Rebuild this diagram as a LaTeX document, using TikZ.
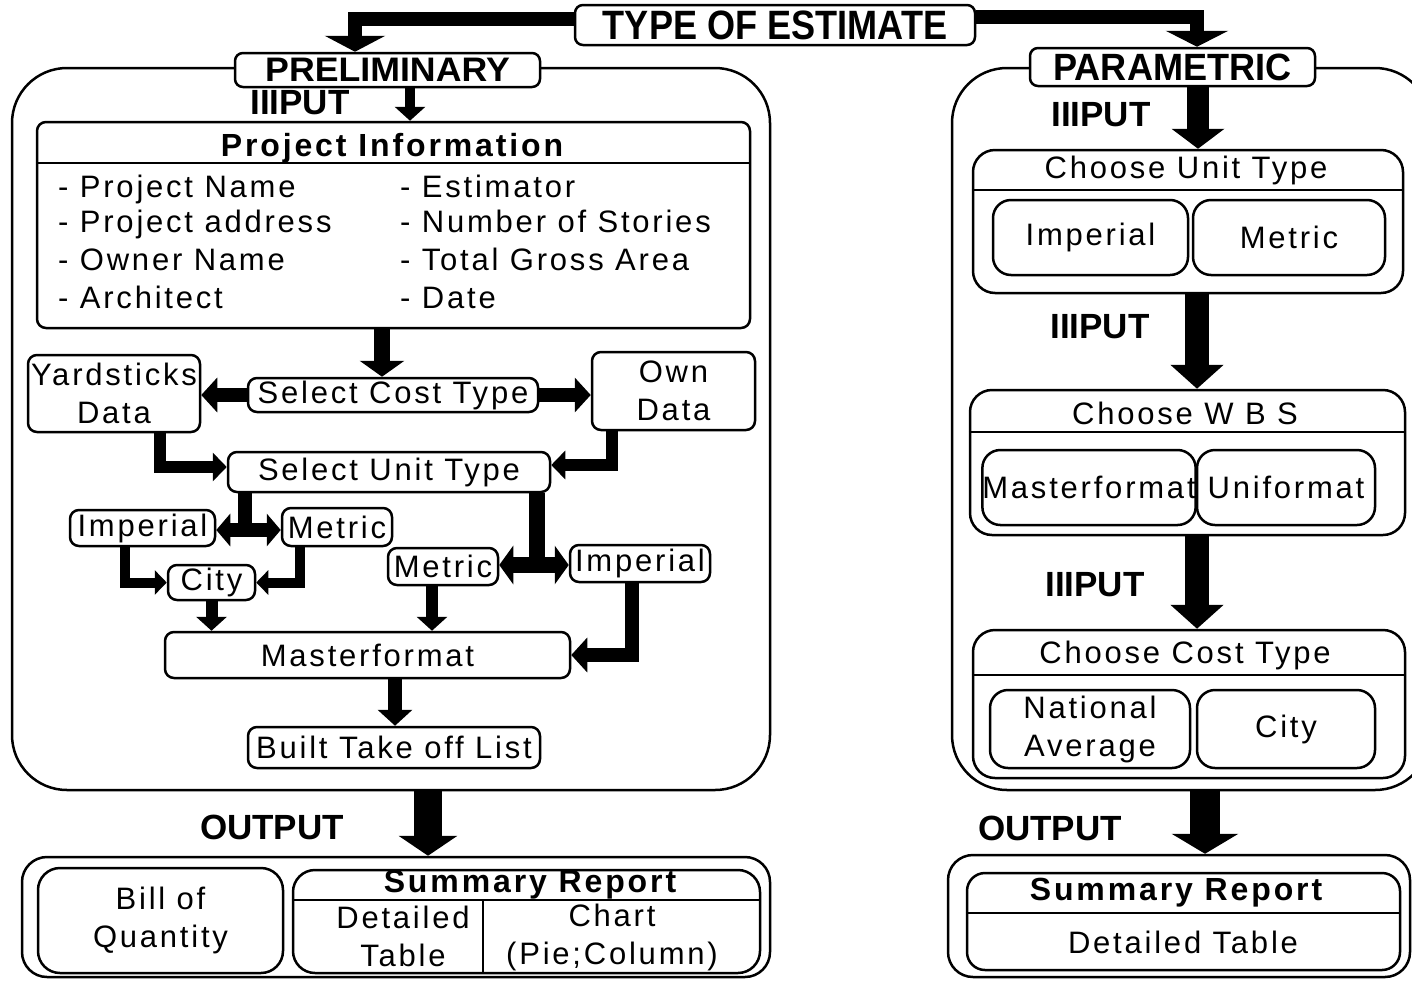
\documentclass[tikz,border=0pt]{standalone}
\usepackage{fontspec}
\usepackage{graphicx}
\setmainfont{Liberation Sans}
\newfontfamily\bodyfont[LetterSpace=9]{Liberation Sans}
\usetikzlibrary{arrows.meta}
\begin{document}
\begin{tikzpicture}[x=1pt,y=-1pt,
  box/.style={draw, line width=2.5pt, rounded corners=9pt, fill=white, inner sep=0pt,
    align=center, font=\bodyfont\fontsize{31}{38}\selectfont},
  panel/.style={draw, line width=2.5pt, rounded corners=55pt, inner sep=0pt},
  lbl/.style={font=\bfseries\fontsize{35}{35}\selectfont, inner sep=0pt},
  txt/.style={font=\bodyfont\fontsize{31}{38}\selectfont, inner sep=0pt, align=center},
  head/.style={font=\bodyfont\bfseries\fontsize{32}{32}\selectfont, inner sep=0pt},
  item/.style={font=\bodyfont\fontsize{31}{36}\selectfont, inner sep=0pt, anchor=base west},
  sep/.style={line width=2.5pt},
  ar/.style n args={3}{line width=#1, -{Triangle[width=#2,length=#3]}},
  dar/.style n args={3}{line width=#1, {Triangle[width=#2,length=#3]}-{Triangle[width=#2,length=#3]}},
]
\useasboundingbox (0,0) rectangle (1412,980);
\clip (0,0) rectangle (1412,980);

% ---------- panels ----------
\node[panel, minimum width=758pt, minimum height=722pt] (lpanel) at (391,429) {};
\node[panel, minimum width=478pt, minimum height=722pt] (rpanel) at (1191,429) {};

% ---------- titles ----------
\node[box, rounded corners=8pt, minimum width=400pt, minimum height=40pt,
      font=\bfseries\fontsize{41}{41}\selectfont] (type) at (775,25) {\scalebox{0.88}[1]{TYPE OF ESTIMATE}};
\node[box, rounded corners=8pt, minimum width=305pt, minimum height=34pt,
      font=\bfseries\fontsize{34}{34}\selectfont] (prelim) at (387.5,70) {\scalebox{1.05}[1]{PRELIMINARY}};
\node[box, rounded corners=8pt, minimum width=285pt, minimum height=38pt,
      font=\bfseries\fontsize{38}{38}\selectfont] (param) at (1172.5,67) {\scalebox{0.95}[1]{PARAMETRIC}};

% ---------- left: preliminary estimate ----------
\node[lbl] (inL) at (300,103) {IIIPUT};

\node[box, minimum width=713pt, minimum height=206pt] (projinfo) at (393.5,225) {};
\draw[sep] (projinfo.west |- 0,163) -- (projinfo.east |- 0,163);
\node[head] (projh) at (392,148) {Project Information};
\node[item] (i1) at (58,197) {- Project Name};
\node[item] (i2) at (58,232) {- Project address};
\node[item] (i3) at (58,270) {- Owner Name};
\node[item] (i4) at (58,308) {- Architect};
\node[item] (i5) at (400,197) {- Estimator};
\node[item] (i6) at (400,232) {- Number of Stories};
\node[item] (i7) at (400,270) {- Total Gross Area};
\node[item] (i8) at (400,308) {- Date};

\node[box, minimum width=172pt, minimum height=77pt] (yard) at (114,393.5) {Yardsticks\\Data};
\node[box, minimum width=290pt, minimum height=34pt] (costtype) at (393,395) {Select Cost Type};
\node[box, minimum width=163pt, minimum height=78pt] (own) at (673.5,391) {Own\\Data};

\node[box, minimum width=322pt, minimum height=40pt] (unittype) at (389,472) {Select Unit Type};

\node[box, minimum width=145pt, minimum height=36pt] (imp1) at (142.5,528) {Imperial};
\node[box, minimum width=110pt, minimum height=38pt] (met1) at (337,527) {Metric};
\node[box, minimum width=87pt, minimum height=35pt] (city1) at (211.5,582.5) {City};
\node[box, minimum width=110pt, minimum height=37pt] (met2) at (443,566.5) {Metric};
\node[box, minimum width=140pt, minimum height=37pt] (imp2) at (640,563.5) {Imperial};

\node[box, minimum width=405pt, minimum height=46pt] (master1) at (367.5,655) {Masterformat};
\node[box, minimum width=292pt, minimum height=41pt] (takeoff) at (394,747.5) {Built Take off List};

\node[lbl] (outlblL) at (272,827) {OUTPUT};

\node[box, rounded corners=25pt, minimum width=748pt, minimum height=120pt] (outL) at (396,917) {};
\node[box, rounded corners=22pt, minimum width=245pt, minimum height=105pt] (boq) at (160.5,920.5) {Bill of\\Quantity};
\node[box, rounded corners=22pt, minimum width=467pt, minimum height=103pt] (sumL) at (526.5,921.5) {};
\draw[sep] (sumL.west |- 0,900) -- (sumL.east |- 0,900);
\draw[sep] (483,900) -- (sumL.south -| 483,0);
\node[head] (sumLh) at (530,885) {Summary Report};
\node[txt] (dtL) at (403,936) {Detailed\\Table};
\node[txt] (chart) at (612,937) {Chart\\(Pie;Column)};

% ---------- right: parametric estimate ----------
\node[lbl] (in1) at (1101,115) {IIIPUT};
\node[box, rounded corners=22pt, minimum width=430pt, minimum height=143pt] (cut) at (1188,221.5) {};
\draw[sep] (cut.west |- 0,190) -- (cut.east |- 0,190);
\node[txt] (cuth) at (1186,170) {Choose Unit Type};
\node[box, rounded corners=18pt, minimum width=195pt, minimum height=75pt] (impR) at (1090.5,237.5) {Imperial};
\node[box, rounded corners=18pt, minimum width=192pt, minimum height=75pt] (metR) at (1289,237.5) {Metric};

\node[lbl] (in2) at (1100,327) {IIIPUT};
\node[box, rounded corners=22pt, minimum width=435pt, minimum height=145pt] (wbs) at (1187.5,462.5) {};
\draw[sep] (wbs.west |- 0,432) -- (wbs.east |- 0,432);
\node[txt] (wbsh) at (1185,413) {Choose W B S};
\node[box, rounded corners=18pt, minimum width=202pt, minimum height=75pt] (mfR) at (1089,487.5) {Masterformat};
\node[box, rounded corners=18pt, minimum width=178pt, minimum height=75pt] (ufR) at (1286,487.5) {Uniformat};

\node[lbl] (in3) at (1095,585) {IIIPUT};
\node[box, rounded corners=22pt, minimum width=432pt, minimum height=148pt] (cct) at (1189,704) {};
\draw[sep] (cct.west |- 0,675) -- (cct.east |- 0,675);
\node[txt] (ccth) at (1185,655) {Choose Cost Type};
\node[box, rounded corners=18pt, minimum width=200pt, minimum height=78pt] (natR) at (1090,729) {National\\Average};
\node[box, rounded corners=18pt, minimum width=178pt, minimum height=78pt] (cityR) at (1286,729) {City};

\node[lbl] (outlblR) at (1050,828) {OUTPUT};
\node[box, rounded corners=25pt, minimum width=462pt, minimum height=122pt] (outR) at (1179,916) {};
\node[box, rounded corners=18pt, minimum width=433pt, minimum height=97pt] (sumR) at (1183.5,921.5) {};
\draw[sep] (sumR.west |- 0,913) -- (sumR.east |- 0,913);
\node[head] (sumRh) at (1176,893) {Summary Report};
\node[txt] (dtR) at (1183,942) {Detailed Table};

% ---------- connectors ----------
\draw[ar={14pt}{60pt}{16pt}] (type.west |- 0,19) -| (prelim.north -| 355,0);
\draw[ar={14pt}{62pt}{16pt}] (type.east |- 0,17) -| (param.north -| 1197,0);

\draw[ar={10pt}{30pt}{14pt}] (prelim.south -| 410,0) -- (projinfo.north -| 410,0);
\draw[ar={16pt}{44pt}{16pt}] (projinfo.south -| 382,0) -- (costtype.north -| 382,0);
\draw[ar={14pt}{34pt}{16pt}] (costtype.west) -- (yard.east |- costtype.west);
\draw[ar={14pt}{34pt}{16pt}] (costtype.east) -- (own.west |- costtype.east);
\draw[ar={12pt}{28pt}{14pt}] (yard.south -| 160,0) |- (unittype.west |- 0,467);
\draw[ar={12pt}{28pt}{14pt}] (own.south -| 612,0) |- (unittype.east |- 0,465);

\coordinate (j1) at (245,530);
\draw[line width=14pt] (unittype.south -| j1) -- ([yshift=7pt]j1);
\draw[dar={14pt}{32pt}{14pt}] (imp1.east |- j1) -- (met1.west |- j1);
\draw[ar={10pt}{24pt}{12pt}] (imp1.south -| 125,0) |- (city1.west);
\draw[ar={10pt}{24pt}{12pt}] (met1.south -| 300,0) |- (city1.east);

\coordinate (j2) at (537,565);
\draw[line width=16pt] (unittype.south -| j2) -- ([yshift=8pt]j2);
\draw[dar={16pt}{38pt}{14pt}] (met2.east |- j2) -- (imp2.west |- j2);

\draw[ar={12pt}{30pt}{14pt}] (city1.south) -- (master1.north -| city1.south);
\draw[ar={12pt}{30pt}{14pt}] (met2.south -| 432,0) -- (master1.north -| 432,0);
\draw[ar={14pt}{34pt}{16pt}] (imp2.south -| 632,0) |- (master1.east);
\draw[ar={14pt}{34pt}{16pt}] (master1.south -| 395,0) -- (takeoff.north -| 395,0);
\draw[ar={28pt}{58pt}{20pt}] (lpanel.south -| 428,0) -- (outL.north -| 428,0);

\draw[ar={22pt}{52pt}{20pt}] (param.south -| 1198,0) -- (cut.north -| 1198,0);
\draw[ar={24pt}{52pt}{24pt}] (cut.south -| 1197,0) -- (wbs.north -| 1197,0);
\draw[ar={24pt}{52pt}{24pt}] (wbs.south -| 1197,0) -- (cct.north -| 1197,0);
\draw[ar={30pt}{66pt}{20pt}] (rpanel.south -| 1205,0) -- (outR.north -| 1205,0);
\end{tikzpicture}
\end{document}
